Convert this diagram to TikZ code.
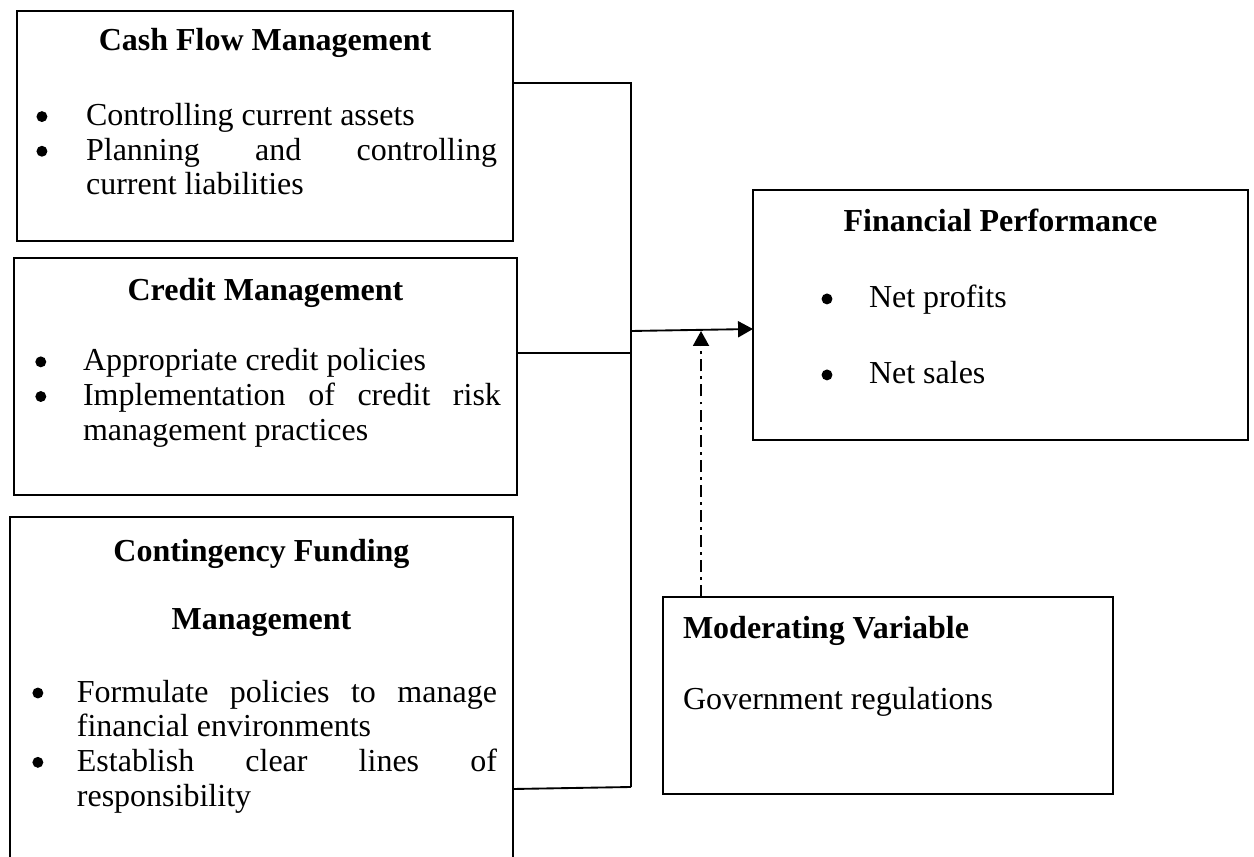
\documentclass[tikz,border=0pt]{standalone}
\usepackage{fontspec}
\setmainfont{Liberation Serif}
\usepackage{enumitem}
\usetikzlibrary{arrows.meta}

\newcommand{\blob}{\tikz[baseline=-3.4pt]\fill (0,0) circle (2.05pt);}
\setlist[itemize]{label=\blob, topsep=0pt, partopsep=0pt, itemsep=0pt, parsep=0pt, rightmargin=6pt}

\begin{document}
\begin{tikzpicture}[x=0.375pt, y=-0.375pt,
    panel/.style={draw, line width=0.6pt, anchor=north west, inner sep=0pt, outer sep=0pt,
      font=\fontsize{12}{13}\selectfont},
    link/.style={line width=0.7pt},
    tip/.style={-{Triangle[length=5.6pt,width=6pt]}},
    modlink/.style={link, dash pattern=on 4.5pt off 1.9pt on 1.1pt off 1.9pt}]

    \useasboundingbox (0,0) rectangle (1254,857);

    % Cash flow
    \node[panel] (cash) at (17,11) {\begin{minipage}[c][86.25pt][t]{186pt}
        \hyphenpenalty=10000
        \vspace*{5.9pt}
        {\centering\bfseries\strut Cash Flow Management\par}
        \vspace{15pt}
        \begin{itemize}[leftmargin=25.9pt, labelsep=14.5pt]
            \item Controlling current assets
            \item Planning and controlling\linebreak current liabilities
        \end{itemize}
    \end{minipage}};

    % Credit
    \node[panel] (credit) at (14,258) {\begin{minipage}[c][88.9pt][t]{188.6pt}
        \hyphenpenalty=10000
        \vspace*{7pt}
        {\centering\bfseries\strut Credit Management\par}
        \vspace{13.25pt}
        \begin{itemize}[leftmargin=25.9pt, labelsep=13.8pt]
            \item Appropriate credit policies
            \item Implementation of credit risk\linebreak management practices
        \end{itemize}
    \end{minipage}};

    % Contingency funding
    \node[panel] (cont) at (10,517) {\begin{minipage}[c][135pt][t]{188.6pt}
        \hyphenpenalty=10000
        \vspace*{7.4pt}
        {\centering\bfseries\strut Contingency Funding\par}
        \vspace{12.5pt}
        {\centering\bfseries Management\par}
        \vspace{14.4pt}
        \begin{itemize}[leftmargin=25.1pt, labelsep=12.6pt]
            \item Formulate policies to manage\linebreak financial environments
            \item Establish clear lines of\linebreak responsibility
        \end{itemize}
    \end{minipage}};

    % Financial performance
    \node[panel] (perf) at (753,190) {\begin{minipage}[c][93.75pt][t]{185.6pt}
        \vspace*{6.65pt}
        {\centering\bfseries\strut Financial Performance\par}
        \vspace{15.5pt}
        \begin{itemize}[leftmargin=43.5pt, labelsep=13.7pt, itemsep=15.5pt]
            \item Net profits
            \item Net sales
        \end{itemize}
    \end{minipage}};

    % Moderating variable
    \node[panel] (moder) at (663,597) {\begin{minipage}[c][73.9pt][t]{168.75pt}
        \leftskip=7.5pt
        \vspace*{6.3pt}
        {\bfseries\strut Moderating Variable\par}
        \vspace{13.6pt}
        Government regulations\par
    \end{minipage}};

    % Verbindungen
    \coordinate (bustop) at (631,83);
    \coordinate (buscredit) at (631,353);
    \coordinate (busjoin) at (631,331);
    \coordinate (busbot) at (631,787);
    \coordinate (modend) at (701,331);

    \draw[link] (cash.east |- bustop) -- (bustop) -- (busbot);
    \draw[link] (credit.east |- buscredit) -- (buscredit);
    \draw[link] (cont.east |- 0,789) -- (busbot);
    \draw[link, tip] (busjoin) -- (perf.west |- 0,329);
    \draw[modlink, tip] (moder.north -| modend) -- (modend);
\end{tikzpicture}
\end{document}
